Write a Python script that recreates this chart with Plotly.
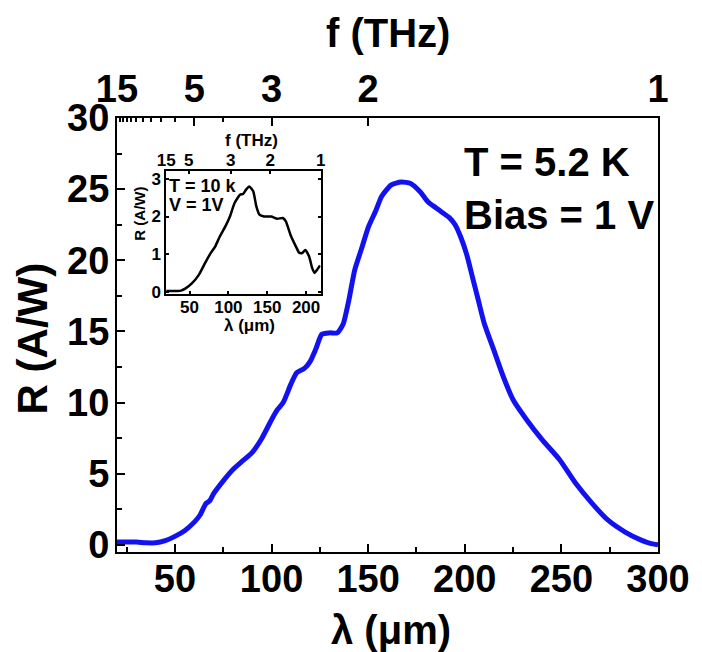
import plotly.graph_objects as go

# ---------------- data ----------------
# main spectrum (T = 5.2 K, bias = 1 V)
wavelength_um = [20, 25, 30, 35, 40, 45, 50, 55, 60, 63, 66, 68, 70, 75, 80, 85, 90, 95,
                 100, 103, 106, 110, 113, 117, 120, 123, 126, 130, 134, 137, 140, 143,
                 147, 150, 154, 157, 162, 167, 172, 177, 181, 185, 188, 192, 195, 198,
                 201, 204, 207, 210, 215, 220, 225, 232, 240, 249, 257, 266, 274, 283,
                 291, 296, 300]
responsivity = [0.2, 0.2, 0.2, 0.15, 0.15, 0.3, 0.6, 1.0, 1.6, 2.1, 2.9, 3.1, 3.6, 4.5,
                5.3, 5.9, 6.5, 7.5, 8.8, 9.5, 10.0, 11.3, 12.1, 12.4, 12.9, 13.8, 14.8,
                14.9, 14.9, 15.5, 17.2, 19.3, 21.0, 22.3, 23.5, 24.5, 25.3, 25.5, 25.4,
                24.8, 24.1, 23.7, 23.4, 23.0, 22.5, 21.6, 20.4, 18.8, 17.2, 15.6, 13.7,
                11.8, 10.2, 8.8, 7.4, 6.0, 4.4, 2.9, 1.75, 0.9, 0.35, 0.1, 0.0]

# inset spectrum (T = 10 K, V = 1 V)
inset_wavelength_um = [20, 25, 30, 35, 39, 45, 53, 62, 70, 77, 83, 89, 96, 102, 108,
                       115, 119, 123, 127, 132, 136, 140, 146, 155, 163, 170, 174,
                       180, 187, 191, 195, 199, 204, 208, 211, 214, 218]
inset_responsivity = [0.02, 0.02, 0.02, 0.02, 0.03, 0.09, 0.22, 0.45, 0.76, 1.02, 1.2,
                      1.47, 1.73, 2.0, 2.36, 2.58, 2.6, 2.72, 2.8, 2.67, 2.27, 2.05, 2.0,
                      2.0, 1.94, 1.96, 1.87, 1.51, 1.2, 1.04, 1.03, 1.11, 0.93, 0.62,
                      0.5, 0.58, 0.7]

# tick labels
main_x_ticks = [50, 100, 150, 200, 250, 300]
main_y_ticks = [0, 5, 10, 15, 20, 25, 30]
freq_labels_thz = [15, 5, 3, 2, 1]
freq_minor_thz = [14, 13, 12, 11, 10, 9, 8, 7, 6, 4]
inset_x_ticks = [50, 100, 150, 200]
inset_y_ticks = [0, 1, 2, 3]
inset_freq_labels = ["15", "5", "3", "2", "1"]
inset_freq_pos_um = [20, 49, 103, 154, 218.7]

# ---------------- layout helpers ----------------
W, H = 702, 652
L, R, T, B = 117, 667, 118, 552   # plot-area pixel box


def px(x):
    return (x - L) / (R - L)


def py(y):
    return (B - y) / (B - T)


FONT = "Liberation Sans, Arial, sans-serif"
BLUE = "#1212F0"

fig = go.Figure()
fig.add_trace(go.Scatter(x=wavelength_um, y=responsivity, mode="lines",
                         line=dict(color=BLUE, width=5, shape="spline", smoothing=0.6),
                         xaxis="x", yaxis="y", showlegend=False, hoverinfo="skip"))
# dummy trace to show top frequency axis
fig.add_trace(go.Scatter(x=[wavelength_um[0]], y=[responsivity[0]], mode="markers",
                         marker=dict(opacity=0), xaxis="x2", yaxis="y",
                         showlegend=False, hoverinfo="skip"))
fig.add_trace(go.Scatter(x=inset_wavelength_um, y=inset_responsivity, mode="lines",
                         line=dict(color="black", width=2.5, shape="spline", smoothing=0.5),
                         xaxis="x3", yaxis="y3", showlegend=False, hoverinfo="skip"))
fig.add_trace(go.Scatter(x=[inset_wavelength_um[0]], y=[inset_responsivity[0]],
                         mode="markers", marker=dict(opacity=0), xaxis="x4", yaxis="y3",
                         showlegend=False, hoverinfo="skip"))

main_font = dict(family=FONT, size=38, color="black", weight="bold")
inset_font = dict(family=FONT, size=17, color="black", weight="bold")

fig.update_layout(
    width=W, height=H,
    margin=dict(l=L, r=W - R, t=T, b=H - B, pad=0),
    paper_bgcolor="white", plot_bgcolor="white",
    xaxis=dict(domain=[0, 1], range=[20, 300], tickmode="array", tickvals=main_x_ticks,
               ticks="inside", ticklen=8, tickwidth=2, tickcolor="black",
               showline=True, linewidth=2, linecolor="black", mirror=True,
               showgrid=False, zeroline=False, tickfont=main_font, ticklabelstandoff=-8,
               minor=dict(tickmode="array", tickvals=[25, 75, 125, 175, 225, 275],
                          ticks="inside", ticklen=5, tickwidth=2, tickcolor="black")),
    xaxis2=dict(overlaying="x", side="top", anchor="y", range=[20, 300],
                tickmode="array", tickvals=[300 / f for f in freq_labels_thz],
                ticktext=[str(f) for f in freq_labels_thz],
                ticks="inside", ticklen=8, tickwidth=2, tickcolor="black",
                showline=False, showgrid=False, zeroline=False, tickfont=main_font,
                ticklabelstandoff=7,
                minor=dict(tickmode="array", tickvals=[300 / f for f in freq_minor_thz],
                           ticks="inside", ticklen=4, tickwidth=2, tickcolor="black")),
    yaxis=dict(domain=[0, 1], range=[-0.5, 30], tickmode="array", tickvals=main_y_ticks,
               ticks="inside", ticklen=8, tickwidth=2, tickcolor="black",
               showline=True, linewidth=2, linecolor="black", mirror=True,
               showgrid=False, zeroline=False, tickfont=main_font, ticklabelstandoff=-2,
               minor=dict(tickmode="array", tickvals=[2.5, 7.5, 12.5, 17.5, 22.5, 27.5],
                          ticks="inside", ticklen=5, tickwidth=2, tickcolor="black")),
    xaxis3=dict(domain=[px(167), px(324)], anchor="y3", range=[20, 218.7],
                tickmode="array", tickvals=inset_x_ticks,
                ticks="inside", ticklen=3, tickwidth=1.5, tickcolor="black",
                showline=True, linewidth=1.5, linecolor="black", mirror=True,
                showgrid=False, zeroline=False, tickfont=inset_font, ticklabelstandoff=-3),
    xaxis4=dict(overlaying="x3", side="top", anchor="y3", range=[20, 218.7],
                tickmode="array", tickvals=inset_freq_pos_um, ticktext=inset_freq_labels,
                ticks="inside", ticklen=3, tickwidth=1.5, tickcolor="black",
                showline=False, showgrid=False, zeroline=False, tickfont=inset_font,
                ticklabelstandoff=1),
    yaxis3=dict(domain=[py(294), py(171)], anchor="x3", range=[-0.06, 3.21],
                tickmode="array", tickvals=inset_y_ticks,
                ticks="inside", ticklen=3, tickwidth=1.5, tickcolor="black",
                showline=True, linewidth=1.5, linecolor="black", mirror="ticks",
                showgrid=False, zeroline=False, tickfont=inset_font, ticklabelstandoff=0),
)

ann = []


def add_text(text, x, y, size, xanchor="center", angle=0):
    ann.append(dict(text=text, x=px(x), y=py(y), xref="paper", yref="paper",
                    xanchor=xanchor, yanchor="middle", showarrow=False, textangle=angle,
                    font=dict(family=FONT, size=size, color="black", weight="bold")))


add_text("f (THz)", 392, 33, 40)
add_text("λ (μm)", 396, 630, 40)
add_text("R (A/W)", 31, 338, 42, angle=-90)
add_text("T = 5.2 K", 468, 162, 40, xanchor="left")
add_text("Bias = 1 V", 468, 215, 40, xanchor="left")
# inset texts
add_text("f (THz)", 254, 140, 17)
add_text("λ (μm)", 252, 325, 17)
add_text("R (A/W)", 139, 214, 15, angle=-90)
add_text("T = 10 k", 168, 186, 18, xanchor="left")
add_text("V = 1V", 168, 205, 18, xanchor="left")

fig.update_layout(annotations=ann)

fig.write_html("out.html")
